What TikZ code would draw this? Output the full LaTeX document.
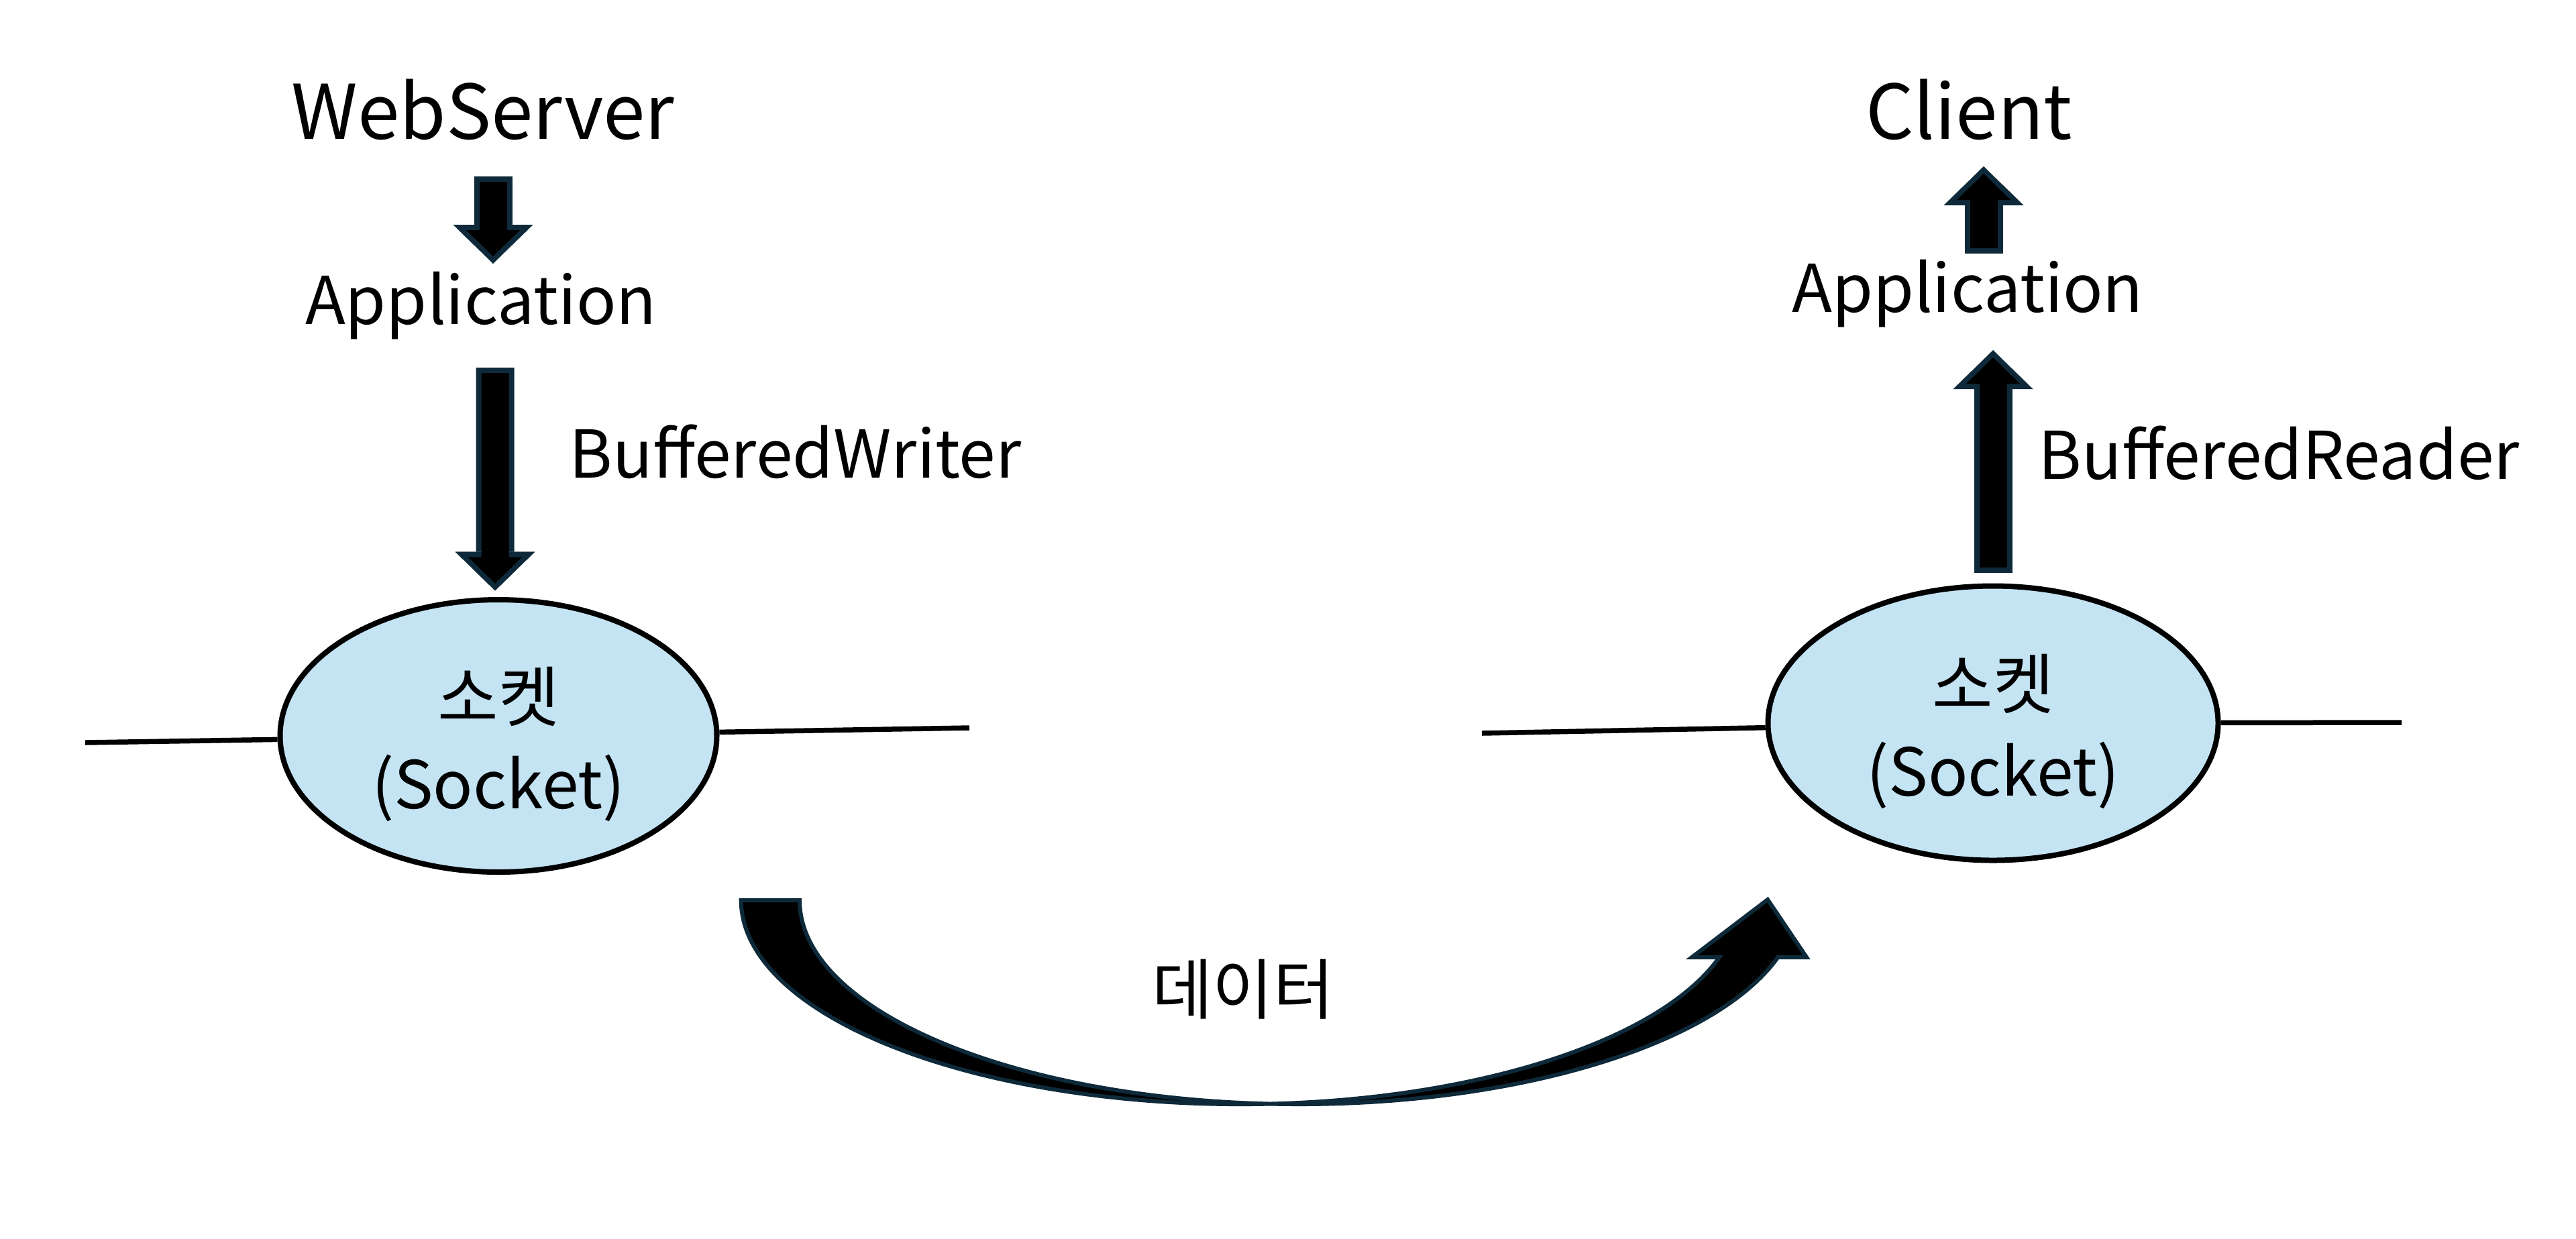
\documentclass[tikz,border=0pt]{standalone}
\usepackage{fontspec}
\setmainfont{Noto Sans CJK KR}
\usetikzlibrary{arrows.meta,shapes.geometric,calc}
\definecolor{sockFill}{HTML}{C4E4F4}
\definecolor{arrInk}{HTML}{0E2A3A}

\begin{document}
\begin{tikzpicture}[
  lbl/.style={inner sep=0pt, anchor=base, font=\fontsize{28}{33}\selectfont},
  ttl/.style={lbl, font=\fontsize{32}{37}\selectfont},
  sock/.style={ellipse, draw=black, line width=0.8mm, fill=sockFill, inner sep=0pt},
  socktxt/.style={inner sep=0pt, align=center, font=\fontsize{28}{37}\selectfont},
  wire/.style={line width=0.75mm},
  blk/.style={draw=arrInk, line width=5.7mm, -{Triangle[length=5.8mm, width=11.9mm, line width=0.1pt]},
    postaction={draw=black, line width=4.1mm, -{Triangle[length=3.9mm, width=8mm, line width=0.1pt]}, shorten <=0.8mm, shorten >=1.1mm}},
  dataarc/.style={draw=arrInk, line width=0.6mm, fill=black, line join=miter},
]
\useasboundingbox (0,0) rectangle (38.4,-18.46);
% ---- server side ----
\node[ttl] (web) at (7.20,-2.07) {WebServer};
\node[lbl] (appL) at (7.17,-4.83) {Application};
\node[lbl, anchor=base west] (bw) at (8.48,-7.12) {BufferedWriter};
\node[sock, minimum width=6.51cm, minimum height=4.06cm] (sockL) at (7.43,-10.97) {};
\node[socktxt] (sockLt) at ([yshift=-1.2mm]sockL.center) {소켓\\(Socket)};
% ---- client side ----
\node[ttl] (client) at (29.35,-2.07) {Client};
\node[lbl] (appR) at (29.33,-4.65) {Application};
\node[lbl, anchor=base west] (br) at (30.38,-7.14) {BufferedReader};
\node[sock, minimum width=6.71cm, minimum height=4.09cm] (sockR) at (29.71,-10.78) {};
\node[socktxt] (sockRt) at ([yshift=-1.2mm]sockR.center) {소켓\\(Socket)};
\node[lbl, anchor=center] (data) at (18.53,-14.75) {데이터};
% ---- wires ----
\coordinate (lL) at (1.27,-11.07);
\coordinate (rL) at (14.45,-10.85);
\coordinate (lR) at (22.09,-10.93);
\coordinate (rR) at (35.80,-10.77);
\draw[wire] (sockL) -- (lL);
\draw[wire] (sockL) -- (rL);
\draw[wire] (sockR) -- (lR);
\draw[wire] (sockR) -- (rR);
% ---- block arrows ----
\draw[blk] ([shift={(0.15,-0.56)}]web.base) -- ([shift={(0.18,0.90)}]appL.base);
\draw[blk] ([shift={(0.21,-0.65)}]appL.base) -- ([shift={(-0.05,0.095)}]sockL.north);
\draw[blk] ([shift={(0.24,0.87)}]appR.base) -- ([shift={(0.22,-0.41)}]client.base);
\draw[blk] ([shift={(0,0.16)}]sockR.north) -- ([shift={(0.38,-0.57)}]appR.base);
% ---- curved data arrow ----
\draw[dataarc] (11.05,-13.42) -- (11.92,-13.42)
  arc[start angle=180, end angle=343.76, x radius=7.44cm, y radius=3.04cm]
  -- (26.93,-14.27) -- (26.35,-13.41) -- (25.22,-14.27) -- (25.63,-14.27)
  arc[start angle=343.76, end angle=180, x radius=7.44cm, y radius=3.04cm] -- cycle;
\end{tikzpicture}
\end{document}
